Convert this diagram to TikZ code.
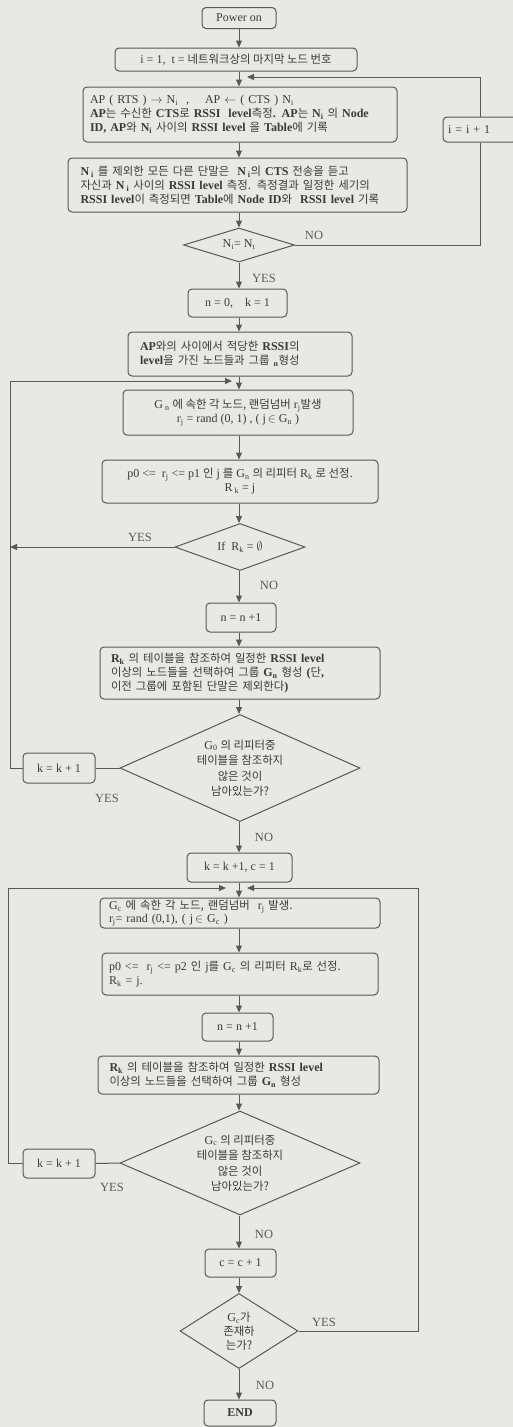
\documentclass[tikz,border=0pt]{standalone}
\usepackage{xcolor}
\usepackage{amsmath}
\usepackage{fontspec}
\setmainfont{Liberation Serif}
\newfontfamily\krfont{Noto Sans CJK KR}[Scale=0.95]
\usepackage{tikz}
\usetikzlibrary{calc,shapes.geometric,arrows.meta}

\definecolor{bgc}{RGB}{232,232,228}
\definecolor{linec}{RGB}{88,88,88}
\definecolor{txtc}{RGB}{58,58,58}
\definecolor{tagc}{RGB}{90,90,90}

\newcommand{\ko}[1]{{\krfont\mdseries #1}}
\newcommand{\subs}[1]{\textsubscript{#1}}
\newcommand{\jl}[1]{\makebox[\hsize][s]{#1}}

\begin{document}
\begin{tikzpicture}[x=1pt,y=-1pt]
                \tikzstyle{every node}+=[text=txtc, font=\fontsize{12}{14}\selectfont]
                \tikzstyle{flowbox}=[draw=linec, line width=1pt, rounded corners=4pt, fill=bgc, inner xsep=5pt, inner ysep=2pt]
                \tikzstyle{heavy}=[font=\fontsize{12}{14}\selectfont\bfseries]
                \tikzstyle{decide}=[draw=linec, line width=1pt, diamond, fill=bgc, inner sep=0pt, align=center]
                \tikzstyle{flowline}=[draw=linec, line width=1pt]
                \tikzstyle{flowarrow}=[flowline, -{Triangle[length=7pt,width=6pt]}]
                \tikzstyle{tag}=[inner sep=0pt, text=tagc, font=\fontsize{12.5}{14}\selectfont]
                \fill [bgc] (0,0) rectangle (513,1427);
                \useasboundingbox (0,0) rectangle (513,1427);
                \coordinate (axis) at (239,0);
                % first part: table building
                \node [flowbox, minimum width=74pt, minimum height=21pt] (pwr) at (239,18) {Power on};
                \node [flowbox, minimum width=242pt, minimum height=23pt] (init) at (236,59.5) {i = 1,\ \ t = \ko{네트워크상의 마지막 노드 번호}};
                \node [flowbox, minimum width=314pt, minimum height=55pt, text width=300pt, align=left] (ap) at (240,114.5) {AP ( RTS ) $\rightarrow$ N\subs{i}\ \ ,\quad\ AP $\leftarrow$ ( CTS ) N\subs{i}\\ \textbf{AP\ko{는 수신한} CTS\ko{로} RSSI\ \ level\ko{측정}. AP\ko{는} N\subs{i} \ko{의} Node}\\ \textbf{ID, AP\ko{와} N\subs{i} \ko{사이의} RSSI level \ko{을} Table\ko{에 기록}}};
                \node [flowbox, heavy, minimum width=339pt, minimum height=54pt, text width=314pt, align=left] (listen) at (237.5,185) {\jl{N\,\subs{i} \ko{를 제외한 모든 다른 단말은}\ \ N\,\subs{i}\ko{의} CTS \ko{전송을 듣고}}\\ \jl{\ko{자신과} N\,\subs{i} \ko{사이의} RSSI level \ko{측정. 측정결과 일정한 세기의}}\\ RSSI level\ko{이 측정되면} Table\ko{에} Node ID\ko{와}\ \ RSSI level \ko{기록}};
                \node [decide, minimum width=111pt, minimum height=34pt, aspect=3.2] (dNi) at (239,245) {N\subs{i}= N\subs{t}};
                \node [flowbox, minimum width=74pt, minimum height=25pt, text width=64pt, align=left] (inc) at (480,129.5) {i = i + 1};
                % second part: first groups
                \node [flowbox, minimum width=99pt, minimum height=28pt] (nk0) at (237.5,303) {n = 0,\quad k = 1};
                \node [flowbox, heavy, minimum width=224pt, minimum height=44pt, text width=200pt, align=left] (grp) at (240,354) {\jl{AP\ko{와의 사이에서 적당한} RSSI\ko{의}}\\ level\ko{을 가진 노드들과 그룹}\ \subs{n}\ko{형성}};
                \node [flowbox, minimum width=230pt, minimum height=45pt, align=center] (rnd) at (238,412.5) {G\,\subs{n} \ko{에 속한 각 노드, 랜덤넘버} r\subs{j}\ko{발생}\\ r\subs{j} = rand (0, 1) , ( j\,$\in$ G\subs{n} )};
                \node [flowbox, minimum width=276pt, minimum height=43pt, align=center] (sel) at (240,481.5) {p0 <=\ \ r\subs{j} <= p1 \ko{인} j \ko{를} G\subs{n} \ko{의 리피터} R\subs{k} \ko{로 선정.}\\ R\,\subs{k} = j};
                \node [decide, minimum width=130pt, minimum height=47pt, aspect=2.8] (dR) at (240,547) {If\ \ R\subs{k} = $\emptyset$};
                \node [flowbox, minimum width=70pt, minimum height=29pt] (nInc1) at (241,617.5) {n = n +1};
                \node [flowbox, heavy, minimum width=280pt, minimum height=52pt, text width=258pt, align=left] (tbl1) at (240,673) {\jl{R\subs{k} \ko{의 테이블을 참조하여 일정한} RSSI level}\\ \jl{\ko{이상의 노드들을 선택하여 그룹} G\subs{n} \ko{형성} (\ko{단},}\\ \ko{이전 그룹에 포함된 단말은 제외한다})};
                \node [decide, minimum width=240pt, minimum height=107pt, aspect=2.24, font=\fontsize{12}{15.5}\selectfont] (dG0) at (240,768) {G\subs{0} \ko{의 리피터중}\\ \ko{테이블을 참조하지}\\ \ko{않은 것이}\\ \ko{남아있는가?}};
                \node [flowbox, minimum width=72pt, minimum height=30pt] (kInc1) at (59,768) {k = k + 1};
                % third part: next groups
                \node [flowbox, minimum width=105pt, minimum height=29pt] (kc) at (239.5,867.5) {k = k +1, c = 1};
                \node [flowbox, minimum width=280pt, minimum height=30pt, text width=262pt, align=left, font=\fontsize{12}{13}\selectfont] (rndc) at (240,913) {G\subs{c} \ko{에 속한 각 노드, 랜덤넘버}\ \ r\subs{j} \ko{발생.}\\ r\subs{j}= rand (0,1), ( j\,$\in$ G\subs{c} )};
                \node [flowbox, minimum width=276pt, minimum height=42pt, text width=262pt, align=left] (selc) at (240,974) {p0 <=\ \ r\subs{j} <= p2 \ko{인} j\ko{를} G\subs{c} \ko{의 리피터} R\subs{k}\ko{로 선정.}\\ R\subs{k} = j.};
                \node [flowbox, minimum width=71pt, minimum height=28pt] (nInc2) at (237.5,1027) {n = n +1};
                \node [flowbox, heavy, minimum width=281pt, minimum height=38pt, text width=258pt, align=left] (tbl2) at (238.5,1075) {\jl{R\subs{k} \ko{의 테이블을 참조하여 일정한} RSSI level}\\ \ko{이상의 노드들을 선택하여 그룹} G\subs{n} \ko{형성}};
                \node [decide, minimum width=240pt, minimum height=104pt, aspect=2.3, font=\fontsize{12}{15.5}\selectfont] (dGc) at (240,1163) {G\subs{c} \ko{의 리피터중}\\ \ko{테이블을 참조하지}\\ \ko{않은 것이}\\ \ko{남아있는가?}};
                \node [flowbox, minimum width=72pt, minimum height=29pt] (kInc2) at (59,1163.5) {k = k + 1};
                \node [flowbox, minimum width=71pt, minimum height=28pt] (cInc) at (240.5,1263) {c = c + 1};
                \node [decide, minimum width=118pt, minimum height=75pt, aspect=1.57] (dEx) at (239,1331) {G\subs{c}\ko{가}\\ \ko{존재하}\\ \ko{는가?}};
                \node [flowbox, heavy, minimum width=72pt, minimum height=26pt] (theEnd) at (240,1413) {END};
                % yes / no
                \node [tag] (noA) at (314,235) {NO};
                \node [tag] (yesA) at (264,278) {YES};
                \node [tag] (yesB) at (140,537) {YES};
                \node [tag] (noB) at (269,585) {NO};
                \node [tag] (yesC) at (107,798) {YES};
                \node [tag] (noC) at (264,837) {NO};
                \node [tag] (yesD) at (112,1187) {YES};
                \node [tag] (noD) at (264,1234) {NO};
                \node [tag] (yesE) at (324,1322) {YES};
                \node [tag] (noE) at (265,1385) {NO};
                % main line
                \draw [flowarrow] (pwr.south -| axis) -- (init.north -| axis);
                \draw [flowarrow] (init.south -| axis) -- (ap.north -| axis);
                \draw [flowarrow] (ap.south -| axis) -- (listen.north -| axis);
                \draw [flowarrow] (listen.south -| axis) -- (dNi.north -| axis);
                \draw [flowarrow] (dNi.south -| axis) -- (nk0.north -| axis);
                \draw [flowarrow] (nk0.south -| axis) -- (grp.north -| axis);
                \draw [flowarrow] (grp.south -| axis) -- (rnd.north -| axis);
                \draw [flowarrow] (rnd.south -| axis) -- (sel.north -| axis);
                \draw [flowarrow] (sel.south -| axis) -- (dR.north -| axis);
                \draw [flowarrow] (dR.south -| axis) -- (nInc1.north -| axis);
                \draw [flowarrow] (nInc1.south -| axis) -- (tbl1.north -| axis);
                \draw [flowarrow] (tbl1.south -| axis) -- (dG0.north -| axis);
                \draw [flowarrow] (dG0.south -| axis) -- (kc.north -| axis);
                \draw [flowarrow] (kc.south -| axis) -- (rndc.north -| axis);
                \draw [flowarrow] (rndc.south -| axis) -- (selc.north -| axis);
                \draw [flowarrow] (selc.south -| axis) -- (nInc2.north -| axis);
                \draw [flowarrow] (nInc2.south -| axis) -- (tbl2.north -| axis);
                \draw [flowarrow] (tbl2.south -| axis) -- (dGc.north -| axis);
                \draw [flowarrow] (dGc.south -| axis) -- (cInc.north -| axis);
                \draw [flowarrow] (cInc.south -| axis) -- (dEx.north -| axis);
                \draw [flowarrow] (dEx.south -| axis) -- (theEnd.north -| axis);
                % loops
                \coordinate (jA) at (247,77);
                \coordinate (lB) at (10,381);
                \coordinate (jB) at (232,381);
                \coordinate (lC) at (8,888);
                \coordinate (jC) at (226,888);
                \coordinate (rD) at (418,888);
                \coordinate (jD) at (247,888);
                \draw [flowline] (dNi.east) -| (inc.south);
                \draw [flowarrow] (inc.north) |- (jA);
                \draw [flowarrow] (kInc1.west) -| (lB) -- (jB);
                \draw [flowarrow] (dR.west) -- (dR.west -| lB);
                \draw [flowline] (dG0.west) -- (kInc1.east);
                \draw [flowarrow] (kInc2.west) -| (lC) -- (jC);
                \draw [flowline] (dGc.west) -- (kInc2.east);
                \draw [flowarrow] (dEx.east) -| (rD) -- (jD);
\end{tikzpicture}
\end{document}
